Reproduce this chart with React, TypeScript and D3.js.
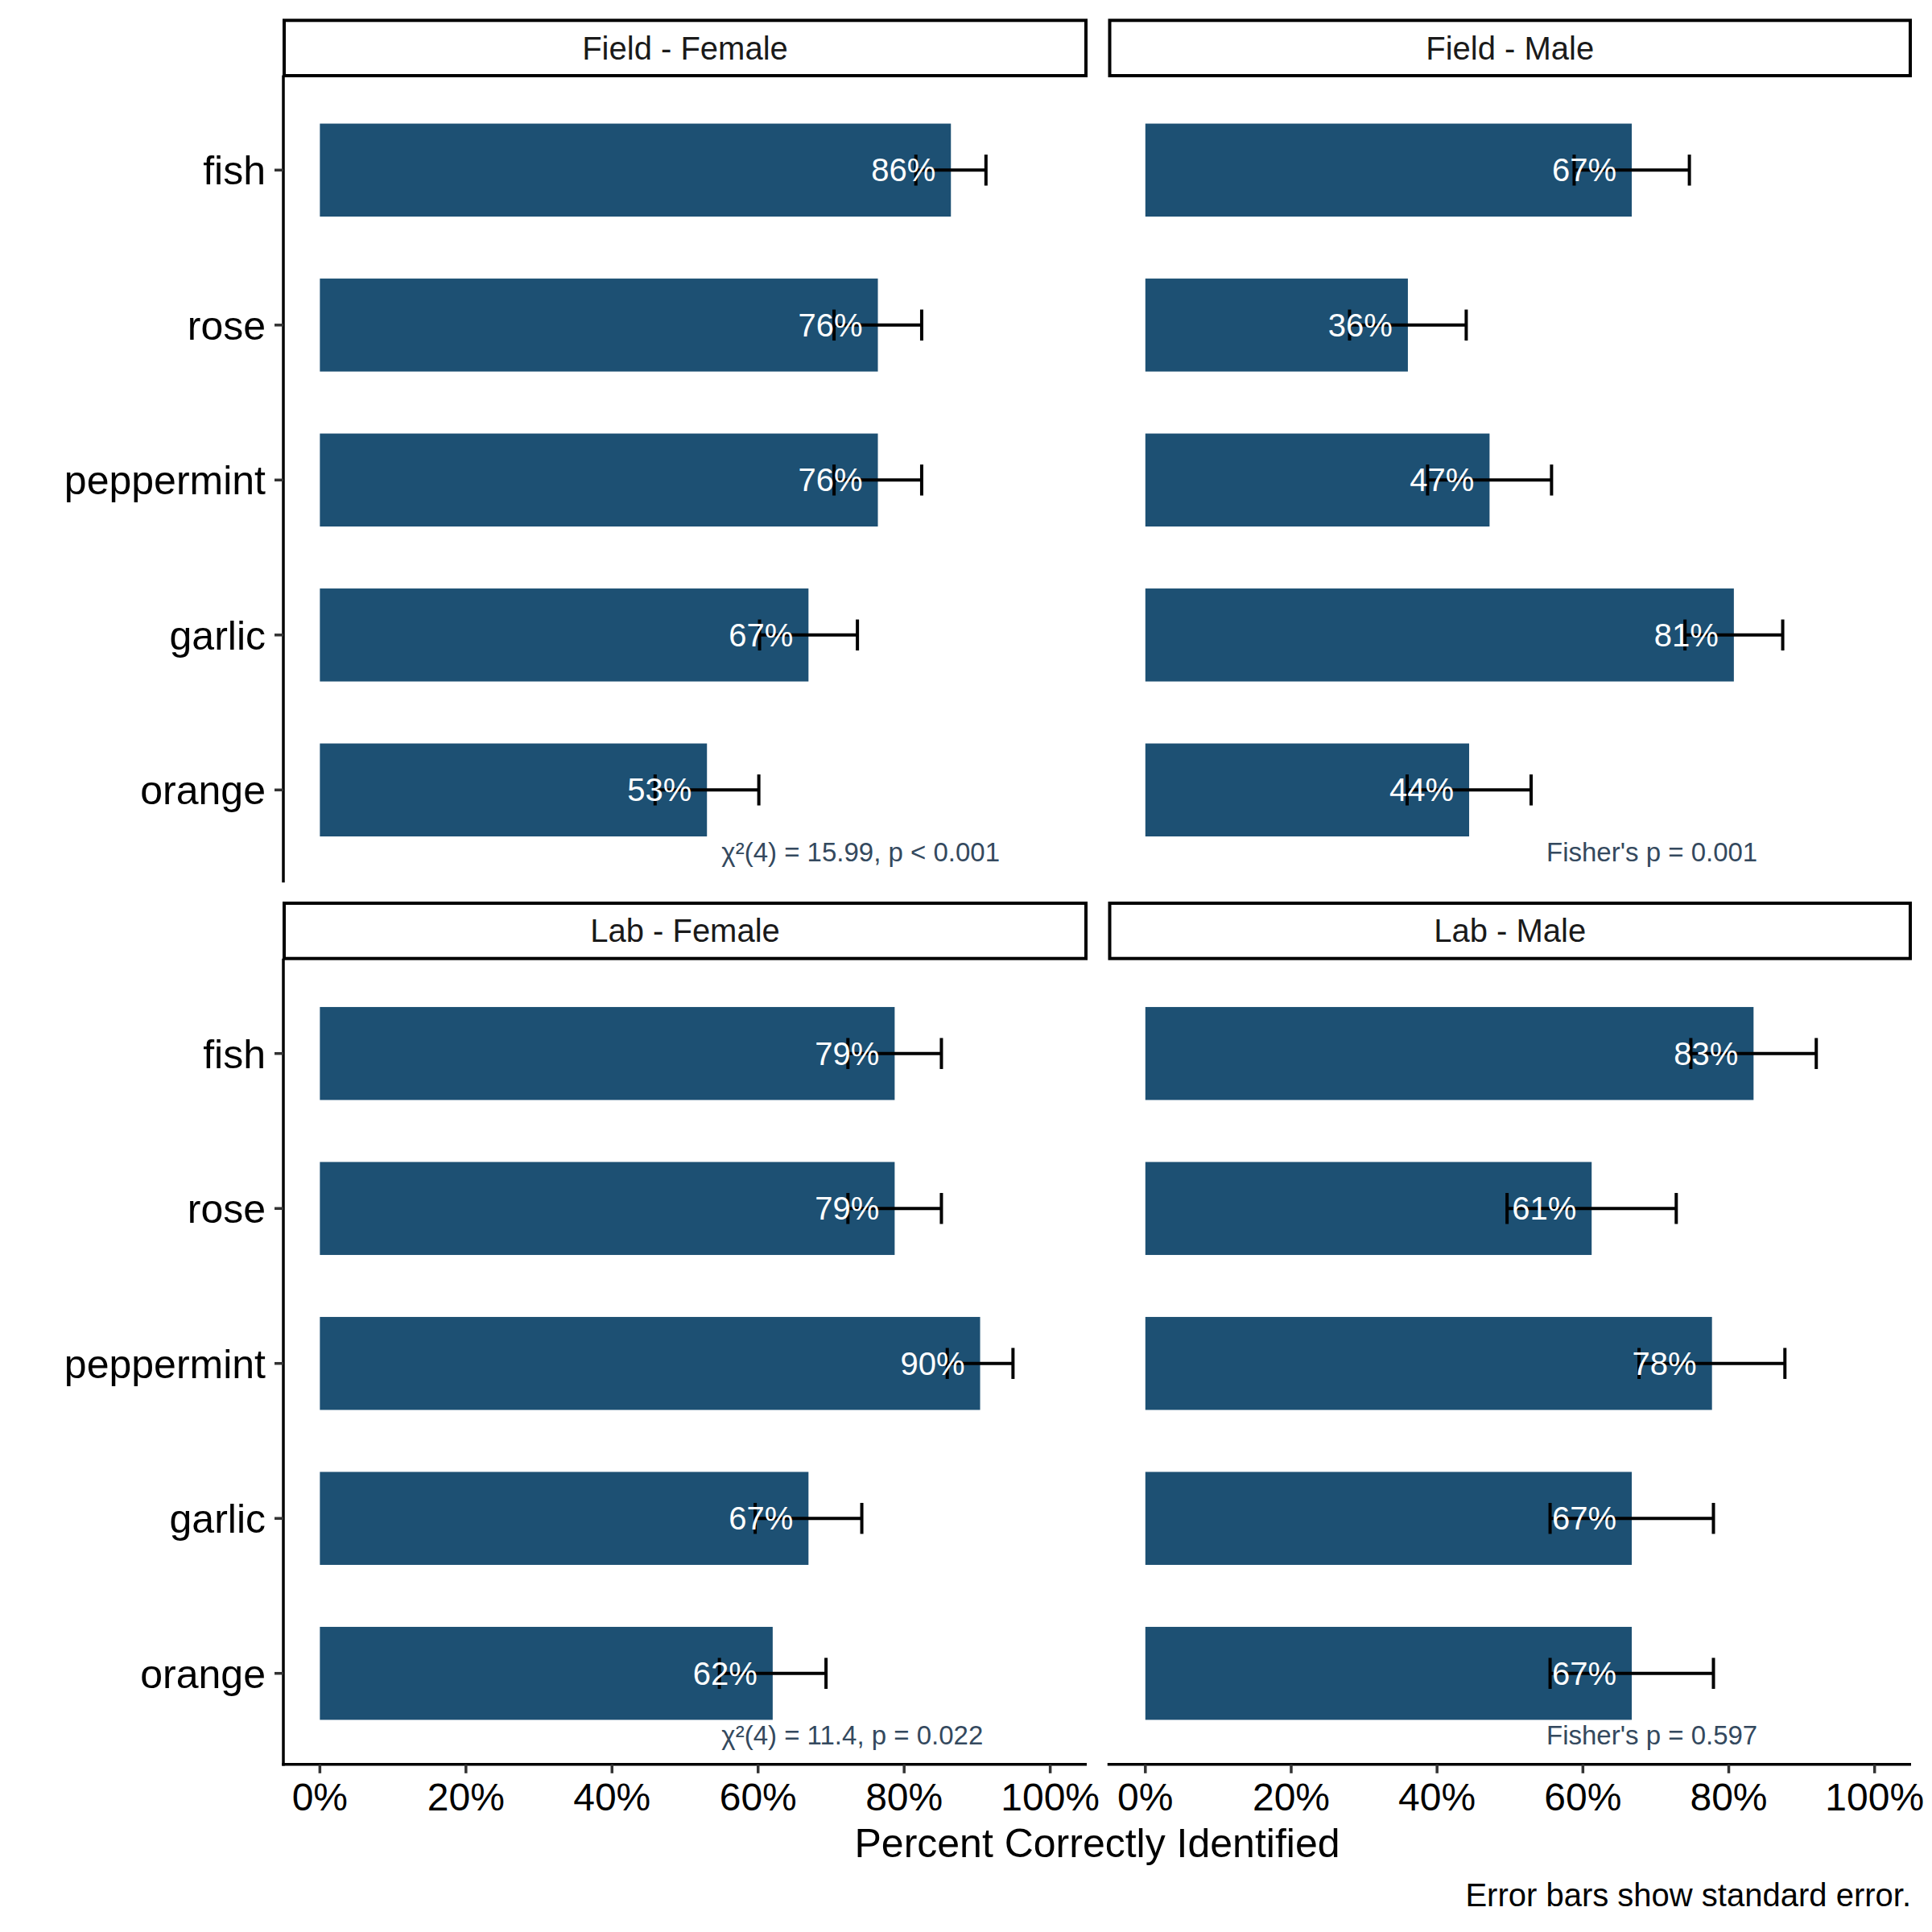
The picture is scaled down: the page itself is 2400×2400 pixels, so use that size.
import React from "react";
import * as d3 from "d3";

const categories = ["fish", "rose", "peppermint", "garlic", "orange"];
const panelTitles = ["Field - Female", "Field - Male", "Lab - Female", "Lab - Male"];

// proportion correct per panel (order follows categories)
const fieldFemale = [0.864, 0.764, 0.764, 0.669, 0.53];
const fieldMale = [0.667, 0.36, 0.472, 0.807, 0.444];
const labFemale = [0.787, 0.787, 0.904, 0.669, 0.62];
const labMale = [0.834, 0.612, 0.777, 0.667, 0.667];

// standard errors
const fieldFemaleSE = [0.048, 0.06, 0.06, 0.067, 0.071];
const fieldMaleSE = [0.079, 0.08, 0.085, 0.067, 0.085];
const labFemaleSE = [0.064, 0.064, 0.045, 0.073, 0.073];
const labMaleSE = [0.086, 0.116, 0.1, 0.112, 0.112];

const statLabels = [
  "χ²(4) = 15.99, p < 0.001",
  "Fisher's p = 0.001",
  "χ²(4) = 11.4, p = 0.022",
  "Fisher's p = 0.597",
];

const xTicks = [0, 0.2, 0.4, 0.6, 0.8, 1.0];
const xTitle = "Percent Correctly Identified";
const caption = "Error bars show standard error.";

const FONT = "'Liberation Sans', Arial, Helvetica, sans-serif";
const BAR = "#1d5073";

const cols = [
  { x0: 352, x1: 1350 },
  { x0: 1377.5, x1: 2374 },
];
const rows = [
  { s0: 25.3, s1: 94, p0: 93.4, p1: 1094.4 },
  { s0: 1122, s1: 1190.7, p0: 1190.8, p1: 2191.8 },
];
const bandShift = 2.4;

const values = [fieldFemale, fieldMale, labFemale, labMale];
const ses = [fieldFemaleSE, fieldMaleSE, labFemaleSE, labMaleSE];

function Panel({ idx }: { idx: number }) {
  const r = rows[Math.floor(idx / 2)];
  const c = cols[idx % 2];
  const x = d3.scaleLinear().domain([-0.05, 1.05]).range([c.x0, c.x1]);
  const y = d3
    .scaleBand<string>()
    .domain(categories)
    .range([r.p0 + bandShift, r.p1 + bandShift])
    .paddingInner(0.4)
    .paddingOuter(0.3);
  const bw = y.bandwidth();
  const step = y.step();
  const capH = step * 0.2;
  const vals = values[idx];
  const se = ses[idx];
  const isLeft = idx % 2 === 0;
  const isBottom = idx >= 2;
  const annY = (y("orange") as number) + bw / 2 + 0.4 * step;

  return (
    <g>
      {/* strip */}
      <rect
        x={c.x0 + 1}
        y={r.s0}
        width={c.x1 - c.x0 - 2}
        height={r.s1 - r.s0}
        fill="white"
        stroke="black"
        strokeWidth={4}
      />
      <text
        x={(c.x0 + c.x1) / 2}
        y={(r.s0 + r.s1) / 2 + 14}
        textAnchor="middle"
        fontSize={40}
        fill="#1a1a1a"
        fontFamily={FONT}
      >
        {panelTitles[idx]}
      </text>

      {/* bars */}
      {categories.map((cat, i) => (
        <rect
          key={"b" + cat}
          x={x(0)}
          y={y(cat) as number}
          width={x(vals[i]) - x(0)}
          height={bw}
          fill={BAR}
        />
      ))}

      {/* error bars */}
      {categories.map((cat, i) => {
        const cy = (y(cat) as number) + bw / 2;
        const lo = x(vals[i] - se[i]);
        const hi = x(vals[i] + se[i]);
        return (
          <g key={"e" + cat} stroke="black" strokeWidth={4}>
            <line x1={lo} x2={hi} y1={cy} y2={cy} />
            <line x1={lo} x2={lo} y1={cy - capH / 2} y2={cy + capH / 2} />
            <line x1={hi} x2={hi} y1={cy - capH / 2} y2={cy + capH / 2} />
          </g>
        );
      })}

      {/* value labels */}
      {categories.map((cat, i) => (
        <text
          key={"t" + cat}
          x={x(vals[i]) - 19}
          y={(y(cat) as number) + bw / 2 + 14}
          textAnchor="end"
          fontSize={40}
          fill="white"
          fontFamily={FONT}
        >
          {Math.round(vals[i] * 100) + "%"}
        </text>
      ))}

      {/* stat annotation */}
      <text
        x={x(0.55)}
        y={annY + 11.5}
        textAnchor="start"
        fontSize={33}
        fill="#34495e"
        fontFamily={FONT}
      >
        {statLabels[idx]}
      </text>

      {/* y axis */}
      {isLeft && (
        <g>
          <line x1={c.x0} x2={c.x0} y1={r.p0} y2={r.p1 + 1.75} stroke="black" strokeWidth={3.5} />
          {categories.map((cat) => {
            const cy = (y(cat) as number) + bw / 2;
            return (
              <g key={"yt" + cat}>
                <line x1={c.x0 - 11} x2={c.x0} y1={cy} y2={cy} stroke="#333333" strokeWidth={3.5} />
                <text
                  x={c.x0 - 22}
                  y={cy + 18}
                  textAnchor="end"
                  fontSize={50}
                  fill="black"
                  fontFamily={FONT}
                >
                  {cat}
                </text>
              </g>
            );
          })}
        </g>
      )}

      {/* x axis */}
      {isBottom && (
        <g>
          <line x1={c.x0 - 1.75} x2={c.x1} y1={r.p1} y2={r.p1} stroke="black" strokeWidth={3.5} />
          {xTicks.map((t) => (
            <g key={"xt" + t}>
              <line x1={x(t)} x2={x(t)} y1={r.p1} y2={r.p1 + 11} stroke="#333333" strokeWidth={3.5} />
              <text
                x={x(t)}
                y={r.p1 + 57}
                textAnchor="middle"
                fontSize={48}
                fill="black"
                fontFamily={FONT}
              >
                {d3.format(".0%")(t)}
              </text>
            </g>
          ))}
        </g>
      )}
    </g>
  );
}

export default function App() {
  return (
    <svg
      width={2400}
      height={2400}
      style={{ position: "absolute", left: 0, top: 0, background: "white" }}
    >
      <rect x={0} y={0} width={2400} height={2400} fill="white" />
      {[0, 1, 2, 3].map((i) => (
        <Panel key={i} idx={i} />
      ))}
      <text
        x={(cols[0].x0 + cols[1].x1) / 2}
        y={2307}
        textAnchor="middle"
        fontSize={50}
        fill="black"
        fontFamily={FONT}
      >
        {xTitle}
      </text>
      <text x={2374} y={2368} textAnchor="end" fontSize={40} fill="black" fontFamily={FONT}>
        {caption}
      </text>
    </svg>
  );
}
